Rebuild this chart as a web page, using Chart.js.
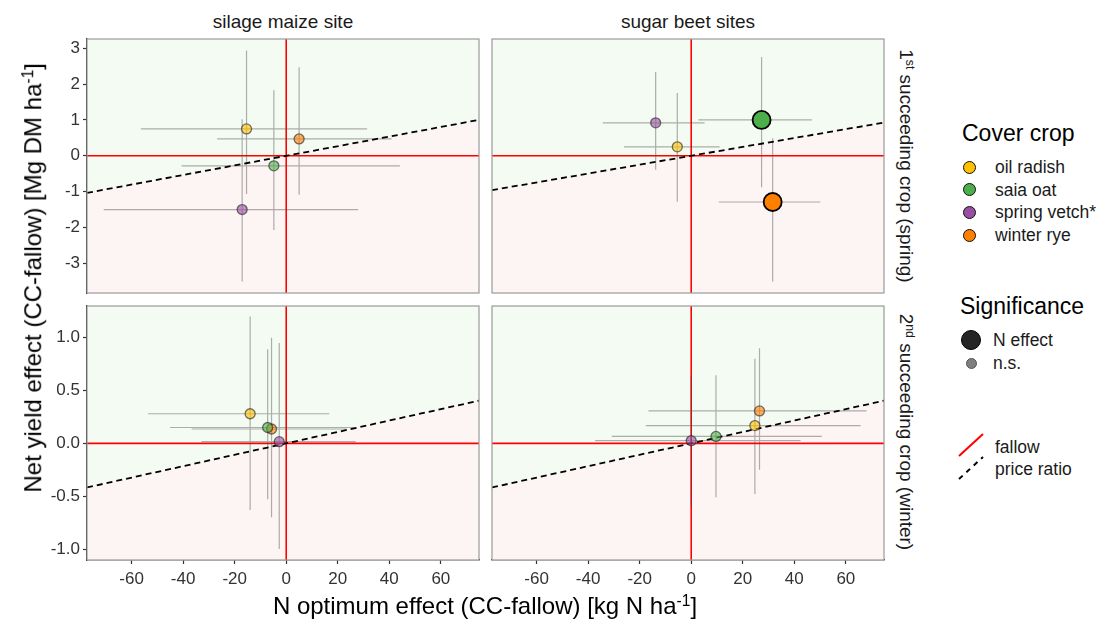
<!DOCTYPE html>
<html>
<head>
<meta charset="utf-8">
<script src="https://cdn.jsdelivr.net/npm/chart.js@4.4.0/dist/chart.umd.min.js"></script>
<style>
  body { margin: 0; width: 1110px; height: 620px; background: #fff; position: relative; overflow: hidden;
         font-family: "Liberation Sans", Arial, sans-serif; }
  canvas { position: absolute; }
  .t { position: absolute; white-space: nowrap; color: #1a1a1a; line-height: 1.15; }
  .c { text-align: center; }
  sup { font-size: 0.65em; vertical-align: baseline; position: relative; top: -0.5em; }
  .dot { position: absolute; border-radius: 50%; box-sizing: border-box; }
</style>
</head>
<body>

<canvas id="p1"></canvas>
<canvas id="p2"></canvas>
<canvas id="p3"></canvas>
<canvas id="p4"></canvas>

<!-- facet strips -->
<div class="t c" style="left:133px; top:11px; width:300px; font-size:19px;">silage maize site</div>
<div class="t c" style="left:538px; top:11px; width:300px; font-size:19px;">sugar beet sites</div>
<div class="t c" style="left:756px; top:155px; width:300px; font-size:19px; transform:rotate(90deg);">1<sup>st</sup> succeeding crop (spring)</div>
<div class="t c" style="left:756px; top:421px; width:300px; font-size:19px; transform:rotate(90deg);">2<sup>nd</sup> succeeding crop (winter)</div>

<!-- axis titles -->
<div class="t c" style="left:-267px; top:264px; width:600px; font-size:24px; color:#000; transform:rotate(-90deg);">Net yield effect (CC-fallow) [Mg DM ha<sup>-1</sup>]</div>
<div class="t c" style="left:185px; top:592px; width:600px; font-size:24px; color:#000;">N optimum effect (CC-fallow) [kg N ha<sup>-1</sup>]</div>

<!-- legend -->
<div class="t" style="left:962px; top:120px; font-size:23px; color:#000;">Cover crop</div>
<div id="cropLegend"></div>
<div class="t" style="left:960px; top:293px; font-size:23px; color:#000;">Significance</div>
<div class="dot" style="left:961px; top:330px; width:20px; height:20px; background:#262626; border:1.5px solid #000;"></div>
<div class="t" style="left:993px; top:330px; font-size:17.5px;">N effect</div>
<div class="dot" style="left:966px; top:358px; width:11px; height:11px; background:#7f7f7f; border:1px solid #555;"></div>
<div class="t" style="left:993px; top:353px; font-size:17.5px;">n.s.</div>
<svg style="position:absolute; left:950px; top:425px;" width="40" height="65">
  <line x1="9" y1="31" x2="33" y2="9" stroke="#ff0000" stroke-width="2"/>
  <line x1="9" y1="54" x2="33" y2="32" stroke="#000" stroke-width="2" stroke-dasharray="5,5"/>
</svg>
<div class="t" style="left:995px; top:437px; font-size:17.5px;">fallow</div>
<div class="t" style="left:995px; top:459px; font-size:17.5px;">price ratio</div>

<script>
// cover crops (same order in every array below)
const crops = ['oil radish', 'saia oat', 'spring vetch*', 'winter rye'];
const cropFill = ['#ffc000', '#4daf4a', '#984ea3', '#ff7f00'];

// silage maize, 1st succeeding crop
const maize1_n = [-15.4, -4.8, -17.1, 5.0];
const maize1_nCI = [[-56.4, 31.4], [-40.6, 44.1], [-70.8, 27.9], [-26.8, 40.9]];
const maize1_yld = [0.75, -0.28, -1.50, 0.47];
const maize1_yldCI = [[-1.07, 2.94], [-2.07, 1.83], [-3.51, 1.02], [-1.09, 2.47]];
const maize1_sig = [0, 0, 0, 0];

// sugar beet, 1st succeeding crop
const beet1_n = [-5.4, 27.3, -13.8, 31.6];
const beet1_nCI = [[-26.1, 11.0], [2.8, 46.8], [-34.3, 5.2], [10.7, 50.1]];
const beet1_yld = [0.25, 1.00, 0.92, -1.29];
const beet1_yldCI = [[-1.28, 1.75], [-0.88, 2.76], [-0.39, 2.34], [-3.51, 0.49]];
const beet1_sig = [0, 1, 0, 1];

// silage maize, 2nd succeeding crop
const maize2_n = [-14.0, -7.2, -2.7, -5.7];
const maize2_nCI = [[-53.6, 16.7], [-45.1, 27.0], [-32.9, 27.0], [-36.7, 23.4]];
const maize2_yld = [0.28, 0.15, 0.016, 0.136];
const maize2_yldCI = [[-0.63, 1.20], [-0.53, 0.89], [-1.00, 0.95], [-0.70, 1.00]];
const maize2_sig = [0, 0, 0, 0];

// sugar beet, 2nd succeeding crop
const beet2_n = [24.7, 9.6, 0.0, 26.5];
const beet2_nCI = [[-17.6, 65.7], [-30.8, 50.7], [-37.3, 42.4], [-16.6, 68.0]];
const beet2_yld = [0.168, 0.066, 0.025, 0.307];
const beet2_yldCI = [[-0.48, 0.80], [-0.51, 0.645], [-0.60, 0.63], [-0.25, 0.90]];
const beet2_sig = [0, 0, 0, 0];

// slope of the price ratio line (Mg DM per kg N) for each panel
const priceRatio = [0.0134, 0.0124, 0.0054, 0.0054];

const xTicks = [-60, -40, -20, 0, 20, 40, 60];
const yTicksTop = [-3, -2, -1, 0, 1, 2, 3];
const yTicksBottom = [-1.0, -0.5, 0.0, 0.5, 1.0];

const xRange = [-77.3, 74.8];
const yRangeTop = [-3.83, 3.26];
const yRangeBottom = [-1.104, 1.30];

const font = { family: 'Liberation Sans, Arial, sans-serif', size: 17 };

// legend for cover crops
const cropLegend = document.getElementById('cropLegend');
const rowY = [167, 189.5, 212, 235];
crops.forEach((name, i) => {
    cropLegend.insertAdjacentHTML('beforeend',
        `<div class="dot" style="left:963px; top:${rowY[i] - 6.5}px; width:13px; height:13px; background:${cropFill[i]}; border:1.6px solid #111;"></div>` +
        `<div class="t" style="left:995px; top:${rowY[i] - 10}px; font-size:17.5px;">${name}</div>`);
});

function hexA(hex, a) {
    const v = parseInt(hex.slice(1), 16);
    return `rgba(${v >> 16},${(v >> 8) & 255},${v & 255},${a})`;
}

// light grey frame around each panel
const frame = {
    id: 'frame',
    afterDatasetsDraw(chart) {
        const a = chart.chartArea, ctx = chart.ctx;
        ctx.save();
        ctx.strokeStyle = '#9a9a9a';
        ctx.lineWidth = 1.2;
        ctx.strokeRect(a.left, a.top, a.right - a.left, a.bottom - a.top);
        ctx.restore();
    }
};

function makePanel(id, box, col, row, n, nCI, yld, yldCI, sig, slope) {
    const yRange = row === 0 ? yRangeTop : yRangeBottom;
    const yTicks = row === 0 ? yTicksTop : yTicksBottom;
    const axisW = col === 0 ? 57 : 0;
    const axisH = row === 1 ? 40 : 0;
    const cv = document.getElementById(id);
    cv.width = axisW + (box.R - box.L) + 2;
    cv.height = (box.B - box.T) + 2 + axisH;
    cv.style.left = (box.L - axisW - 1) + 'px';
    cv.style.top = (box.T - 1) + 'px';

    const ratioLine = [{ x: xRange[0], y: slope * xRange[0] }, { x: xRange[1], y: slope * xRange[1] }];

    // error bars as one broken line: horizontal then vertical for each crop
    const bars = [];
    crops.forEach((c, i) => {
        bars.push({ x: nCI[i][0], y: yld[i] }, { x: nCI[i][1], y: yld[i] }, { x: n[i], y: null });
        bars.push({ x: n[i], y: yldCI[i][0] }, { x: n[i], y: yldCI[i][1] }, { x: n[i], y: null });
    });

    const datasets = [
        { data: ratioLine, showLine: true, fill: 'start', backgroundColor: '#fdf4f4', borderWidth: 0, pointRadius: 0, order: 20 },
        { data: ratioLine, showLine: true, fill: 'end', backgroundColor: '#f4fbf2', borderWidth: 0, pointRadius: 0, order: 20 },
        { data: [{ x: xRange[0], y: 0 }, { x: xRange[1], y: 0 }], showLine: true, borderColor: '#ff0000', borderWidth: 1.6, pointRadius: 0, order: 15 },
        { data: [{ x: 0, y: yRange[0] }, { x: 0, y: yRange[1] }], showLine: true, borderColor: '#ff0000', borderWidth: 1.6, pointRadius: 0, order: 15 },
        { data: bars, showLine: true, spanGaps: false, borderColor: 'rgba(70,70,70,0.42)', borderWidth: 1.2, pointRadius: 0, order: 10 },
        { data: ratioLine, showLine: true, borderColor: '#000', borderWidth: 1.8, borderDash: [6, 4], pointRadius: 0, order: 8 }
    ];
    crops.forEach((c, i) => {
        datasets.push({
            label: c,
            data: [{ x: n[i], y: yld[i] }],
            pointRadius: sig[i] ? 9 : 5,
            pointBackgroundColor: sig[i] ? cropFill[i] : hexA(cropFill[i], 0.6),
            pointBorderColor: sig[i] ? '#000' : 'rgba(30,30,30,0.6)',
            pointBorderWidth: sig[i] ? 1.8 : 1.3,
            order: 1
        });
    });

    return new Chart(cv, {
        type: 'scatter',
        data: { datasets },
        plugins: [frame],
        options: {
            responsive: false,
            animation: false,
            events: [],
            layout: { autoPadding: false, padding: { left: 1, top: 1, right: 1, bottom: row === 1 ? 0 : 1 } },
            plugins: { legend: { display: false }, tooltip: { enabled: false } },
            scales: {
                x: {
                    type: 'linear', min: xRange[0], max: xRange[1], display: row === 1, z: 1,
                    afterBuildTicks: s => { s.ticks = xTicks.map(v => ({ value: v })); },
                    afterFit: s => { s.height = axisH; s.paddingLeft = 0; s.paddingRight = 0; },
                    grid: { drawOnChartArea: false, tickLength: 4, tickWidth: 1.2, tickColor: '#333' },
                    border: { display: true, color: '#1a1a1a', width: 1.3 },
                    ticks: { color: '#333', font, padding: 5, maxRotation: 0, callback: v => String(v) }
                },
                y: {
                    type: 'linear', min: yRange[0], max: yRange[1], display: col === 0, z: 1,
                    afterBuildTicks: s => { s.ticks = yTicks.map(v => ({ value: v })); },
                    afterFit: s => { s.width = axisW; s.paddingTop = 0; s.paddingBottom = 0; },
                    grid: { drawOnChartArea: false, tickLength: 4, tickWidth: 1.2, tickColor: '#333' },
                    border: { display: true, color: '#1a1a1a', width: 1.3 },
                    ticks: { color: '#333', font, padding: 3, callback: v => row === 0 ? String(v) : v.toFixed(1) }
                }
            }
        }
    });
}

makePanel('p1', { L: 87, T: 39, R: 479, B: 293 }, 0, 0, maize1_n, maize1_nCI, maize1_yld, maize1_yldCI, maize1_sig, priceRatio[0]);
makePanel('p2', { L: 492, T: 39, R: 884, B: 293 }, 1, 0, beet1_n, beet1_nCI, beet1_yld, beet1_yldCI, beet1_sig, priceRatio[1]);
makePanel('p3', { L: 87, T: 306, R: 479, B: 559 }, 0, 1, maize2_n, maize2_nCI, maize2_yld, maize2_yldCI, maize2_sig, priceRatio[2]);
makePanel('p4', { L: 492, T: 306, R: 884, B: 559 }, 1, 1, beet2_n, beet2_nCI, beet2_yld, beet2_yldCI, beet2_sig, priceRatio[3]);
</script>
</body>
</html>
